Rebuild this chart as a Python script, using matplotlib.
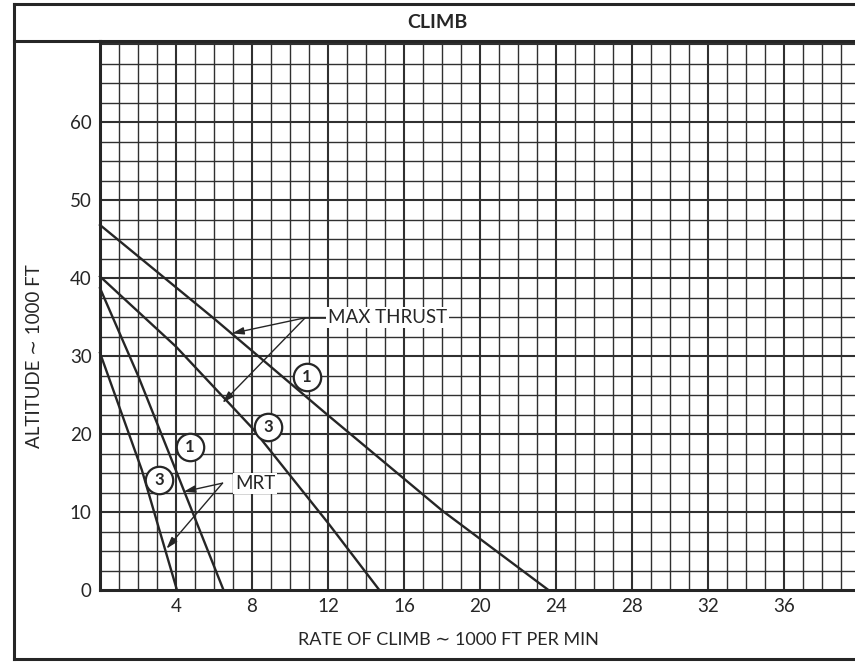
import matplotlib.pyplot as plt
from matplotlib.lines import Line2D

# ---- data (1000 ft/min vs 1000 ft) ----
mt1_x = [0, 6.0, 12.0, 18.0, 23.6]
mt1_y = [46.8, 34.8, 22.4, 10.2, 0]
mt3_x = [0, 4.0, 8.0, 12.0, 14.7]
mt3_y = [40.2, 31.2, 20.8, 8.6, 0]
mrt1_x = [0, 2.0, 4.0, 6.5]
mrt1_y = [38.7, 27.5, 15.3, 0]
mrt3_x = [0, 2.2, 4.05]
mrt3_y = [30.4, 15.4, 0]

xticks = [4, 8, 12, 16, 20, 24, 28, 32, 36]
yticks = [0, 10, 20, 30, 40, 50, 60]

ink = '#262626'
plt.rcParams['font.family'] = ['Lato', 'DejaVu Sans']

fig = plt.figure(figsize=(8.55, 6.63), dpi=100)
ax = fig.add_axes([100/855, 73/663, 755/855, 549/663])

xmax = 755/19.0
ymax = 549/7.8
ax.set_xlim(0, xmax)
ax.set_ylim(0, ymax)

# grid: minor every 1 / 2.5, heavier every 4 / 10
for v in range(1, 40):
    lw = 1.5 if v % 4 == 0 else 1.0
    ax.axvline(v, color='#303030', lw=lw, zorder=1)
for k in range(1, 29):
    v = k*2.5
    lw = 1.5 if k % 4 == 0 else 1.0
    ax.axhline(v, color='#303030', lw=lw, zorder=1)

for s in ['left', 'bottom', 'top']:
    ax.spines[s].set_linewidth(2.2)
    ax.spines[s].set_color(ink)
ax.spines['right'].set_visible(False)

# curves
for xs, ys in [(mt1_x, mt1_y), (mt3_x, mt3_y), (mrt1_x, mrt1_y), (mrt3_x, mrt3_y)]:
    ax.plot(xs, ys, color=ink, lw=1.7, zorder=3, clip_on=False, solid_joinstyle='round')

ax.set_xticks(xticks)
ax.set_yticks(yticks)
ax.tick_params(length=0, labelsize=13.5, colors=ink, pad=6)

# circled numbers
circles = [(10.88, 27.35, '1'), (8.86, 20.9, '3'), (4.74, 18.3, '1'), (3.1, 14.1, '3')]
for cx, cy, t in circles:
    ax.scatter([cx], [cy], s=390, facecolor='white', edgecolor=ink, linewidths=1.6, zorder=5)
    ax.text(cx, cy, t, ha='center', va='center', fontsize=12, fontweight='bold', color=ink, zorder=6)

# labels with arrows
arrow = dict(arrowstyle='-|>,head_length=0.7,head_width=0.22', lw=1.0, color=ink,
             shrinkA=0, shrinkB=0)
ax.text(12.0, 34.9, 'MAX THRUST', fontsize=13.5, va='center', ha='left', color=ink, zorder=6,
        bbox=dict(facecolor='white', edgecolor='none', pad=1.5))
ax.plot([10.8, 11.9], [34.9, 34.9], color=ink, lw=1.2, zorder=4)
ax.annotate('', xy=(6.95, 32.9), xytext=(10.8, 34.9), arrowprops=arrow, zorder=4)
ax.annotate('', xy=(6.45, 24.0), xytext=(10.8, 34.9), arrowprops=arrow, zorder=4)

ax.text(7.1, 13.7, 'MRT', fontsize=13.5, va='center', ha='left', color=ink, zorder=6,
        bbox=dict(facecolor='white', edgecolor='none', pad=1.5))
ax.annotate('', xy=(4.4, 12.6), xytext=(6.45, 13.7), arrowprops=arrow, zorder=4)
ax.annotate('', xy=(3.5, 5.3), xytext=(6.45, 13.7), arrowprops=arrow, zorder=4)

# header / frame
fig.text(437/855, 1 - 22/663, 'CLIMB', ha='center', va='center', fontsize=14,
         fontweight='bold', color=ink)
fig.text(448/855, 1 - 640/663, 'RATE OF CLIMB \u223c 1000 FT PER MIN', ha='center',
         va='center', fontsize=13, color=ink)
fig.text(35/855, 1 - 356/663, 'ALTITUDE \u223c 1000 FT', ha='center', va='center',
         rotation=90, fontsize=13.5, color=ink)

frame = dict(color=ink, lw=2.2, transform=fig.transFigure)
fig.add_artist(Line2D([14/855, 14/855], [1 - 4/663, 1 - 659/663], **frame))
fig.add_artist(Line2D([14/855, 1], [1 - 4/663, 1 - 4/663], **frame))
fig.add_artist(Line2D([14/855, 1], [1 - 659/663, 1 - 659/663], **frame))
fig.add_artist(Line2D([14/855, 100/855], [1 - 41/663, 1 - 41/663], **frame))

plt.savefig('out.png', dpi=100)
